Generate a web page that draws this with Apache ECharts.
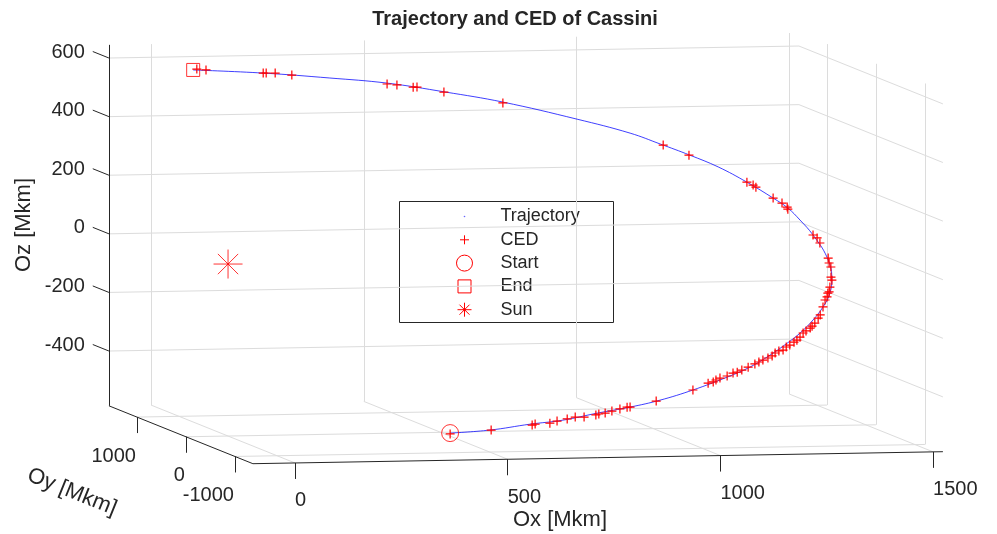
<!DOCTYPE html>
<html>
<head>
<meta charset="utf-8">
<title>Trajectory and CED of Cassini</title>
<script src="https://cdn.jsdelivr.net/npm/echarts@6/dist/echarts.min.js"></script>
<style>
  html, body { margin: 0; padding: 0; background: #fff; }
  #chart { width: 997px; height: 534px; }
</style>
</head>
<body>
<div id="chart"></div>
<script>
// 3D axis limits and ticks [Mkm]
const xLim = [-99, 1523];
const yLim = [-1367, 1571];
const zLim = [-587, 645];
const xTicks = [0, 500, 1000, 1500];
const yTicks = [-1000, 0, 1000];
const zTicks = [-400, -200, 0, 200, 400, 600];

// trajectory samples
const trajX = [453, 551, 650, 732, 817, 899, 974, 1056, 1141, 1199, 1251, 1296, 1331, 1366, 1394, 1415, 1424, 1417, 1389, 1363, 1339, 1309, 1252, 1189, 1127, 1062, 996, 876, 706, 575, 443, 313, 161, 1];
const trajY = [-600, -560, -520, -480, -440, -400, -360, -320, -280, -240, -200, -160, -120, -80, -40, 0, 40, 80, 120, 160, 200, 240, 280, 320, 360, 400, 440, 480, 520, 560, 600, 640, 680, 720];
const trajZ = [-548, -543, -528, -519, -500, -484, -465, -435, -396, -366, -329, -292, -261, -220, -179, -135, -83, -17, 56, 105, 144, 176, 229, 280, 319, 356, 392, 440, 500, 535, 566, 584, 602, 614];

// CED points
const cedX = [453, 554, 655, 662, 699, 717, 742, 762, 784, 814, 821, 837, 854, 874, 892, 899, 965, 1056, 1094, 1106, 1113, 1123, 1141, 1156, 1167, 1179, 1195, 1212, 1222, 1232, 1245, 1256, 1263, 1273, 1284, 1292, 1301, 1312, 1320, 1329, 1338, 1346, 1357, 1362, 1369, 1378, 1384, 1394, 1400, 1407, 1410, 1413, 1416, 1423, 1422, 1424, 1421, 1420, 1404, 1398, 1389, 1339, 1338, 1327, 1309, 1272, 1266, 1252, 1125, 1069, 706, 572, 511, 502, 465, 443, 226, 188, 168, 161, 30, 9];
const cedY = [-600, -560, -520, -520, -500, -490, -480, -470, -460, -440, -440, -430, -420, -410, -400, -400, -360, -320, -300, -300, -295, -290, -280, -270, -260, -250, -240, -230, -225, -220, -210, -200, -200, -190, -180, -175, -170, -160, -150, -135, -120, -110, -100, -95, -90, -80, -70, -40, -30, -10, 0, 0, 10, 30, 40, 60, 70, 80, 110, 115, 120, 200, 205, 215, 240, 270, 275, 280, 360, 400, 520, 560, 580, 580, 590, 600, 660, 670, 680, 680, 710, 715];
const cedZ = [-551, -543, -531, -528, -527, -521, -515, -510, -511, -506, -503, -501, -495, -489, -484, -484, -468, -435, -414, -410, -404, -398, -392, -383, -381, -375, -366, -356, -350, -344, -338, -332, -322, -316, -314, -304, -298, -289, -283, -274, -261, -255, -246, -240, -230, -214, -204, -179, -156, -147, -135, -131, -115, -93, -83, -50, -37, -21, 29, 46, 56, 140, 147, 160, 176, 212, 219, 229, 319, 352, 497, 535, 552, 552, 560, 563, 595, 602, 602, 602, 614, 617];

const startPt = [453, -600, -548];
const endPt = [1, 720, 614];
const sunPt = [0, 0, 0];

const legendNames = ['Trajectory', 'CED', 'Start', 'End', 'Sun'];

// orthographic view: screen position of the (xmin,ymin,zmin) corner and px per Mkm
const view = { ox: 252.9, oy: 463.7, ex: [0.4254, -0.0074], ey: [-0.049, -0.0197], ez: [0, -0.293] };

function proj(x, y, z) {
  const dx = x - xLim[0], dy = y - yLim[0], dz = z - zLim[0];
  return [
    view.ox + dx * view.ex[0] + dy * view.ey[0] + dz * view.ez[0],
    view.oy + dx * view.ex[1] + dy * view.ey[1] + dz * view.ez[1]
  ];
}

// grid planes: back wall (y=ymax), side wall (x=xmax), floor (z=zmin)
const gridSegs = [];
xTicks.forEach(x => {
  gridSegs.push([proj(x, yLim[1], zLim[0]), proj(x, yLim[1], zLim[1])]);
  gridSegs.push([proj(x, yLim[0], zLim[0]), proj(x, yLim[1], zLim[0])]);
});
yTicks.forEach(y => {
  gridSegs.push([proj(xLim[1], y, zLim[0]), proj(xLim[1], y, zLim[1])]);
  gridSegs.push([proj(xLim[0], y, zLim[0]), proj(xLim[1], y, zLim[0])]);
});
zTicks.forEach(z => {
  gridSegs.push([proj(xLim[0], yLim[1], z), proj(xLim[1], yLim[1], z)]);
  gridSegs.push([proj(xLim[1], yLim[1], z), proj(xLim[1], yLim[0], z)]);
});

// axis lines + ticks
const axisSegs = [
  [proj(xLim[0], yLim[0], zLim[0]), proj(xLim[1], yLim[0], zLim[0])],
  [proj(xLim[0], yLim[1], zLim[0]), proj(xLim[0], yLim[0], zLim[0])],
  [proj(xLim[0], yLim[1], zLim[0]), proj(xLim[0], yLim[1], zLim[1])]
];
const labels = [];
const txt = { fontFamily: 'Liberation Sans, Arial, sans-serif', fill: '#262626' };

xTicks.forEach(x => {
  const p = proj(x, yLim[0], zLim[0]);
  axisSegs.push([p, [p[0], p[1] + 16]]);
  labels.push({ type: 'text', x: p[0], y: p[1] + 38,
    style: Object.assign({ text: String(x), fontSize: 20, align: 'left', verticalAlign: 'middle' }, txt) });
});
yTicks.forEach(y => {
  const p = proj(xLim[0], y, zLim[0]);
  axisSegs.push([p, [p[0], p[1] + 16]]);
  labels.push({ type: 'text', x: p[0] - 1, y: p[1] + 39,
    style: Object.assign({ text: String(y), fontSize: 20, align: 'right', verticalAlign: 'middle' }, txt) });
});
zTicks.forEach(z => {
  const p = proj(xLim[0], yLim[1], z);
  const q = proj(xLim[0], yLim[1] + 330, z);
  axisSegs.push([p, q]);
  labels.push({ type: 'text', x: q[0] - 8, y: q[1] + 0.5,
    style: Object.assign({ text: String(z), fontSize: 20, align: 'right', verticalAlign: 'middle' }, txt) });
});

// axis names + title
labels.push({ type: 'text', x: 560, y: 520,
  style: Object.assign({ text: 'Ox [Mkm]', fontSize: 22, align: 'center', verticalAlign: 'middle' }, txt) });
labels.push({ type: 'text', x: 72, y: 492, rotation: -0.384,
  style: Object.assign({ text: 'Oy [Mkm]', fontSize: 22, align: 'center', verticalAlign: 'middle' }, txt) });
labels.push({ type: 'text', x: 24, y: 225, rotation: Math.PI / 2,
  style: Object.assign({ text: 'Oz [Mkm]', fontSize: 22, align: 'center', verticalAlign: 'middle' }, txt) });
labels.push({ type: 'text', x: 515, y: 19,
  style: Object.assign({ text: 'Trajectory and CED of Cassini', fontSize: 20, fontWeight: 'bold', align: 'center', verticalAlign: 'middle' }, txt) });

// legend box
const red = '#ff0000';
const lg = { left: 399, top: 201, w: 214, h: 121, ix: 65, tx: 101, y0: 15, dy: 23.3 };
const legendChildren = [
  { type: 'rect', shape: { x: 0, y: 0, width: lg.w, height: lg.h }, style: { fill: '#fff', stroke: '#262626', lineWidth: 1 } }
];
legendNames.forEach((name, i) => {
  legendChildren.push({ type: 'text', x: lg.tx, y: lg.y0 + i * lg.dy,
    style: Object.assign({ text: name, fontSize: 18, align: 'left', verticalAlign: 'middle' }, txt) });
});
const cy = i => lg.y0 + i * lg.dy;
legendChildren.push(
  { type: 'circle', shape: { cx: lg.ix, cy: cy(0), r: 0.8 }, style: { fill: '#6666ff' } },
  { type: 'line', shape: { x1: lg.ix - 4.5, y1: cy(1), x2: lg.ix + 4.5, y2: cy(1) }, style: { stroke: red, lineWidth: 1 } },
  { type: 'line', shape: { x1: lg.ix, y1: cy(1) - 4.5, x2: lg.ix, y2: cy(1) + 4.5 }, style: { stroke: red, lineWidth: 1 } },
  { type: 'circle', shape: { cx: lg.ix, cy: cy(2), r: 8 }, style: { fill: 'none', stroke: red, lineWidth: 1 } },
  { type: 'rect', shape: { x: lg.ix - 6.5, y: cy(3) - 6.5, width: 13, height: 13 }, style: { fill: 'none', stroke: red, lineWidth: 1 } },
  { type: 'line', shape: { x1: lg.ix - 7, y1: cy(4), x2: lg.ix + 7, y2: cy(4) }, style: { stroke: red, lineWidth: 1 } },
  { type: 'line', shape: { x1: lg.ix, y1: cy(4) - 7, x2: lg.ix, y2: cy(4) + 7 }, style: { stroke: red, lineWidth: 1 } },
  { type: 'line', shape: { x1: lg.ix - 5, y1: cy(4) - 5, x2: lg.ix + 5, y2: cy(4) + 5 }, style: { stroke: red, lineWidth: 1 } },
  { type: 'line', shape: { x1: lg.ix + 5, y1: cy(4) - 5, x2: lg.ix - 5, y2: cy(4) + 5 }, style: { stroke: red, lineWidth: 1 } },
  { type: 'circle', shape: { cx: lg.ix, cy: cy(4), r: 1.2 }, style: { fill: red } }
);
labels.push({ type: 'group', left: lg.left, top: lg.top, z: 100, children: legendChildren });

const plusPath = 'path://M0,5L10,5M5,0L5,10';
const starPath = 'path://M0,10L20,10M10,0L10,20M3,3L17,17M17,3L3,17';

const chart = echarts.init(document.getElementById('chart'));
chart.setOption({
  animation: false,
  backgroundColor: '#fff',
  grid: { left: 0, right: 0, top: 0, bottom: 0 },
  xAxis: { type: 'value', min: 0, max: 997, show: false },
  yAxis: { type: 'value', min: 0, max: 534, inverse: true, show: false },
  graphic: labels,
  series: [
    {
      type: 'lines', coordinateSystem: 'cartesian2d', silent: true, z: 1,
      lineStyle: { color: '#dcdcdc', width: 1, opacity: 1 },
      data: gridSegs.map(c => ({ coords: c }))
    },
    {
      type: 'lines', coordinateSystem: 'cartesian2d', silent: true, z: 2,
      lineStyle: { color: '#262626', width: 1, opacity: 1 },
      data: axisSegs.map(c => ({ coords: c }))
    },
    {
      name: 'Trajectory', type: 'line', z: 3, showSymbol: false, smooth: 0.4,
      lineStyle: { color: 'rgba(0,0,255,0.75)', width: 1 },
      data: trajX.map((x, i) => proj(x, trajY[i], trajZ[i]))
    },
    {
      name: 'CED', type: 'scatter', z: 4, symbol: plusPath, symbolSize: 9,
      itemStyle: { color: 'none', borderColor: red, borderWidth: 1.2, opacity: 1 },
      data: cedX.map((x, i) => proj(x, cedY[i], cedZ[i]))
    },
    {
      name: 'Start', type: 'scatter', z: 5, symbol: 'circle', symbolSize: 17,
      itemStyle: { color: 'none', borderColor: red, borderWidth: 1 },
      data: [proj(...startPt)]
    },
    {
      name: 'End', type: 'scatter', z: 5, symbol: 'rect', symbolSize: 13,
      itemStyle: { color: 'none', borderColor: red, borderWidth: 1 },
      data: [proj(...endPt)]
    },
    {
      name: 'Sun', type: 'scatter', z: 5, symbol: starPath, symbolSize: 29,
      itemStyle: { color: 'none', borderColor: red, borderWidth: 1 },
      data: [proj(...sunPt)]
    }
  ]
});
window.addEventListener('resize', () => chart.resize());
</script>
</body>
</html>
